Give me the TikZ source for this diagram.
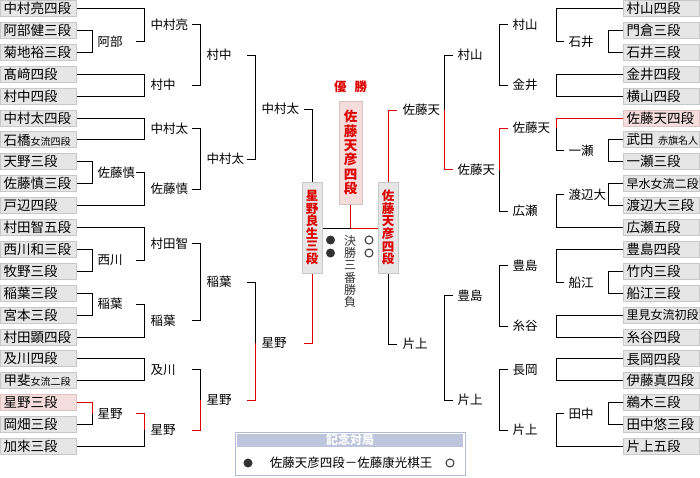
\documentclass[tikz,border=0pt]{standalone}
\usepackage{fontspec}
\setmainfont{Noto Sans CJK JP}
\usepackage{xcolor}
\newcommand{\sm}[1]{{\fontsize{10}{12}\selectfont #1}}
\newcommand{\nr}[1]{{\fontsize{12}{14}\selectfont #1}}
\usepackage{tikz}
\usetikzlibrary{calc}
\usetikzlibrary{positioning}

\definecolor{winred}{RGB}{221,0,0}
\definecolor{boxgray}{RGB}{230,230,230}
\definecolor{boxline}{RGB}{200,200,200}
\definecolor{wonfill}{RGB}{245,221,221}
\definecolor{wonline}{RGB}{224,196,196}
\definecolor{champline}{RGB}{214,196,196}
\definecolor{kinenbg}{RGB}{190,196,220}
\definecolor{kinenline}{RGB}{178,186,214}
\definecolor{dark}{RGB}{51,51,51}

\begin{document}
\begin{tikzpicture}[x=1pt, y=-1pt, line width=1pt,
    player/.style={draw=boxline, fill=boxgray, minimum height=16pt, text width=70pt, inner xsep=3pt, inner ysep=0pt, align=left, font=\fontsize{13.5}{15}\selectfont},
    wonbox/.style={draw=wonline, fill=wonfill},
    who/.style={anchor=west, inner sep=0pt, font=\fontsize{12.5}{14}\selectfont},
    win/.style={draw=winred},
    finalist/.style={draw=boxline, fill=boxgray, minimum width=20pt, minimum height=91pt, inner sep=0pt, align=center, text=winred, font=\fontsize{12.5}{12.6}\selectfont\bfseries},
    champ/.style={finalist, draw=champline, fill=wonfill, minimum width=23pt, minimum height=103pt, font=\fontsize{13.5}{14.3}\selectfont\bfseries},
    tate/.style={align=center, inner sep=0pt, text=dark, font=\fontsize{12}{12.2}\selectfont},
    stone/.style={circle, fill=dark, minimum size=9pt, inner sep=0pt},
    wstone/.style={circle, draw=dark, line width=1pt, minimum size=8pt, inner sep=0pt},
  ]

      \useasboundingbox (0,0) rectangle (700,477);

      \foreach \i/\t in {0/中村亮四段, 1/阿部健三段, 2/菊地裕三段, 3/髙﨑四段, 4/村中四段, 5/中村太四段, 6/石橋\sm{女流四段}, 7/天野三段, 8/佐藤慎三段, 9/戸辺四段, 10/村田智五段, 11/西川和三段, 12/牧野三段, 13/稲葉三段, 14/宮本三段, 15/村田顕四段, 16/及川四段, 17/甲斐\sm{女流二段}, 19/岡畑三段, 20/加來三段}
        \node[player, anchor=west] (l\i) at (0, 8.5+21.9*\i) {\t};
      \node[player, wonbox, anchor=west] (l18) at (0, 8.5+21.9*18) {星野三段};

      \foreach \i/\t in {0/村山四段, 1/門倉三段, 2/石井三段, 3/金井四段, 4/横山四段, 6/武田~\sm{赤旗名人}, 7/一瀬三段, 8/\nr{早水女流二段}, 9/渡辺大三段, 10/広瀬五段, 11/豊島四段, 12/竹内三段, 13/船江三段, 14/\nr{里見女流初段}, 15/糸谷四段, 16/長岡四段, 17/伊藤真四段, 18/鵜木三段, 19/田中悠三段, 20/片上五段}
        \node[player, anchor=east] (r\i) at (700, 8.5+21.9*\i) {\t};
      \node[player, wonbox, anchor=east] (r5) at (700, 8.5+21.9*5) {佐藤天四段};

      \coordinate (bl) at (77,0);
      \coordinate (vl1) at (92,0);
      \coordinate (vl2) at (144,0);
      \coordinate (vl3) at (200,0);
      \coordinate (vl4) at (255,0);
      \coordinate (sl2) at (136,0);
      \coordinate (sl3) at (192,0);
      \coordinate (sl4) at (247,0);
      \coordinate (sl5) at (304,0);
      \coordinate (br) at (623,0);
      \coordinate (vr1) at (608,0);
      \coordinate (vr2) at (556,0);
      \coordinate (vr3) at (499.5,0);
      \coordinate (vr4) at (444,0);
      \coordinate (sr2) at (564,0);
      \coordinate (sr3) at (508,0);
      \coordinate (sr4) at (453,0);
      \coordinate (sr5) at (397,0);

      \foreach \n/\x/\y/\t in {abe/97/41.35/阿部, ryo/150/24.9/中村亮, mnkB/150/85.15/村中, mnkC/206/55/村中, ftB/150/128.95/中村太, shnA/97/172.75/佐藤慎, shnB/150/189.2/佐藤慎, ftC/206/159.1/中村太, ftD/261/109/中村太, nskw/97/260.35/西川, tmk/150/243.9/村田智, inbA/97/304.15/稲葉, inbB/150/320.6/稲葉, inbC/206/282.25/稲葉, oik/150/369.85/及川, hsnA/97/413.65/星野, hsnB/150/430.1/星野, hsnC/206/400/星野, hsnD/261/343/星野, ish/568/41.35/石井, mryB/512/24.9/村山, kni/512/85.15/金井, mryC/457/55/村山, ichs/568/150.85/一瀬, amhB/512/128/佐藤天, wtnb/568/194.65/渡辺大, hrs/512/211.1/広瀬, amhC/457/169.5/佐藤天, amhD/402/110/佐藤天, fne/568/282.25/船江, tysB/512/265.8/豊島, itd/512/326.05/糸谷, tysC/457/295.9/豊島, ngk/512/369.85/長岡, tnk/568/413.65/田中, ktkB/512/430.1/片上, ktkC/457/400/片上, ktkD/402/344/片上}
        \node[who] (\n) at (\x,\y) {\t};

      \foreach \up/\ups/\dn/\dns/\col in {l1/bl/l2/bl/vl1, l0/bl/abe/sl2/vl2, l3/bl/l4/bl/vl2, ryo/sl3/mnkB/sl3/vl3, l5/bl/l6/bl/vl2, l7/bl/l8/bl/vl1, shnA/sl2/l9/bl/vl2, ftB/sl3/shnB/sl3/vl3, mnkC/sl4/ftC/sl4/vl4, l11/bl/l12/bl/vl1, l10/bl/nskw/sl2/vl2, l13/bl/l14/bl/vl1, inbA/sl2/l15/bl/vl2, tmk/sl3/inbB/sl3/vl3, l16/bl/l17/bl/vl2, r1/br/r2/br/vr1, r0/br/ish/sr2/vr2, r3/br/r4/br/vr2, mryB/sr3/kni/sr3/vr3, r6/br/r7/br/vr1, r8/br/r9/br/vr1, wtnb/sr2/r10/br/vr2, r12/br/r13/br/vr1, r11/br/fne/sr2/vr2, r14/br/r15/br/vr2, tysB/sr3/itd/sr3/vr3, r16/br/r17/br/vr2, r18/br/r19/br/vr1, tnk/sr2/r20/br/vr2, ngk/sr3/ktkB/sr3/vr3, tysC/sr4/ktkC/sr4/vr4}
        \draw (\up -| \ups) -- (\up -| \col) -- (\dn -| \col) -- (\dn -| \dns);

      \foreach \won/\wons/\lost/\losts/\col/\res in {l18/bl/l19/bl/vl1/hsnA, hsnA/sl2/l20/bl/vl2/hsnB, hsnB/sl3/oik/sl3/vl3/hsnC, hsnC/sl4/inbC/sl4/vl4/hsnD, r5/br/ichs/sr2/vr2/amhB, amhB/sr3/hrs/sr3/vr3/amhC, amhC/sr4/mryC/sr4/vr4/amhD}
      {
        \draw[win] (\won -| \wons) -- (\won -| \col) -- (\res -| \col);
        \draw (\res -| \col) -- (\lost -| \col) -- (\lost -| \losts);
      }

      \node[finalist] (fL) at (312, 227.5) {星\\野\\良\\生\\三\\段};
      \node[finalist] (fR) at (388, 227.5) {佐\\藤\\天\\彦\\四\\段};
      \node[champ] (champ) at (350.5, 152.5) {佐\\藤\\天\\彦\\四\\段};
      \node[text=winred, font=\fontsize{12.5}{14}\selectfont\bfseries] (yusho) at (350.5, 87) {優\hspace{8pt}勝};

      \draw (ftD -| sl5) -- (ftD -| fL) -- (fL.north);
      \draw[win] (hsnD -| sl5) -- (hsnD -| fL) -- (fL.south);
      \draw[win] (amhD -| sr5) -- (amhD -| fR) -- (fR.north);
      \draw (ktkD -| sr5) -- (ktkD -| fR) -- (fR.south);

      \coordinate (ctr) at (350.5, 228);
      \draw[win] (champ.south) -- (ctr) -- (ctr -| fR.west);
      \draw (fL.east |- ctr) -- (ctr);

      \node[stone] (b1) at (330.5, 240) {};
      \node[stone] (b2) at (330.5, 253) {};
      \node[wstone] (w1) at (369, 240) {};
      \node[wstone] (w2) at (369, 253) {};
      \node[tate] (kessho) at (350, 271.5) {決\\勝\\三\\番\\勝\\負};

      \node[draw=kinenline, minimum width=230pt, minimum height=43pt, inner sep=0pt] (kinen) at (350, 453.5) {};
      \node[fill=kinenbg, minimum width=226pt, minimum height=13.5pt, inner sep=0pt, text=white, font=\fontsize{12}{14}\selectfont\bfseries] (kinenhead) at (350, 440.3) {記念対局};
      \node[stone] (kb) at (248, 463) {};
      \node[font=\fontsize{12.5}{14}\selectfont, inner sep=0pt] (kgame) at (351, 463) {佐藤天彦四段－佐藤康光棋王};
      \node[wstone] (kw) at (450, 463) {};

    \end{tikzpicture}
\end{document}
